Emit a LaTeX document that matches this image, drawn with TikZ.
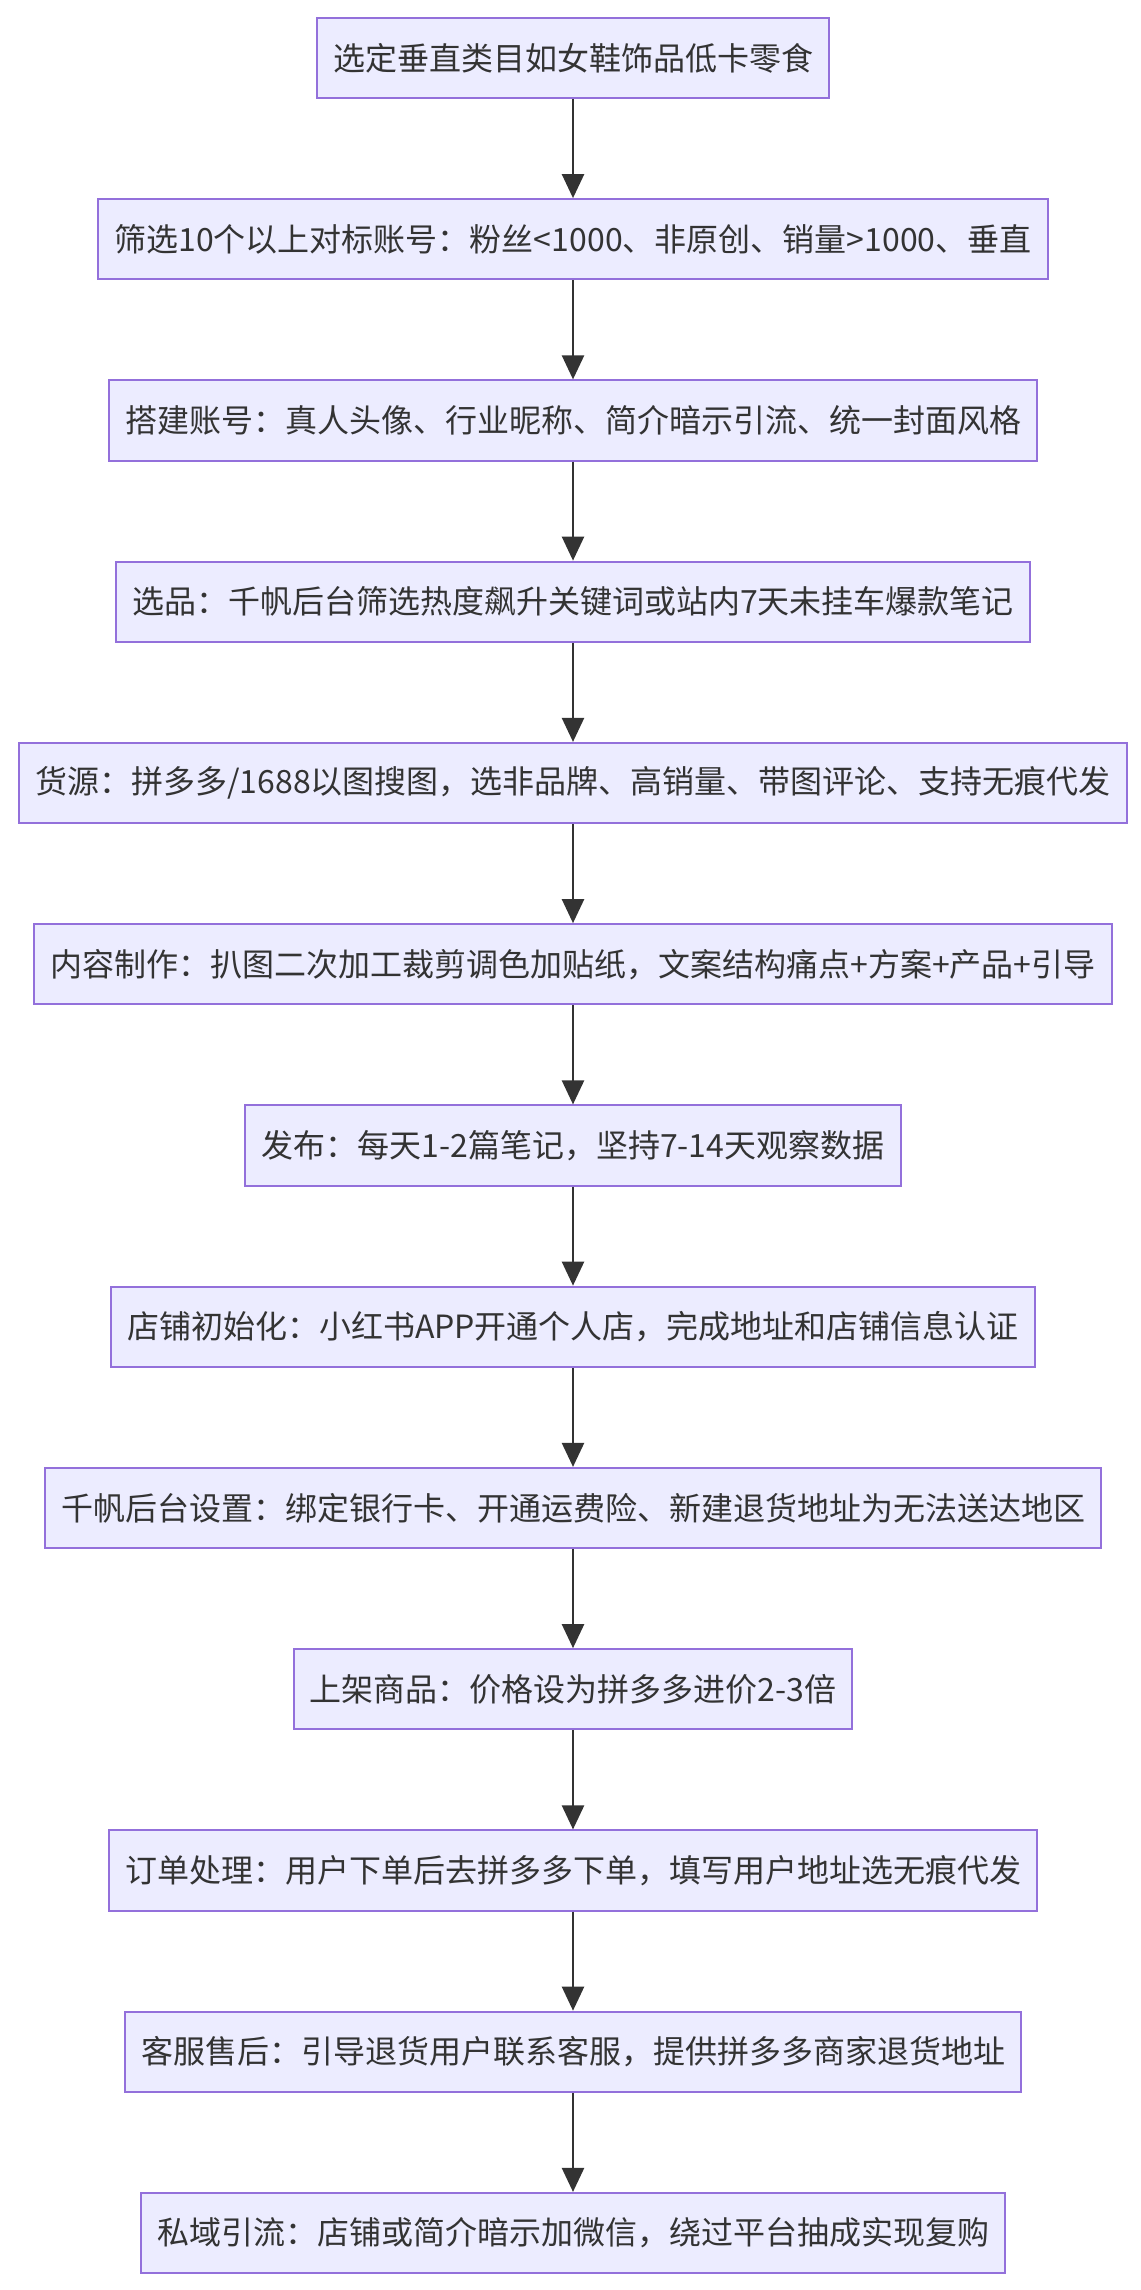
\documentclass[tikz,border=0pt]{standalone}
\usepackage{fontspec}
\setmainfont{Noto Sans CJK SC}
\usepackage{xcolor}
\usetikzlibrary{positioning}
\usetikzlibrary{arrows.meta}

\definecolor{boxfill}{HTML}{ECECFF}
\definecolor{boxline}{HTML}{9370DB}
\definecolor{inkgray}{HTML}{333333}

\begin{document}
\begin{tikzpicture}[flowbox/.style={rectangle,draw=boxline,fill=boxfill,line width=1pt,minimum height=1.41cm,inner xsep=8pt,text=inkgray,font=\fontsize{16pt}{19pt}\selectfont}, flowarrow/.style={draw=inkgray,line width=1.2pt,-{Triangle[length=12pt,width=11pt]}}, node distance = 1.74cm]
	\useasboundingbox (0,0) rectangle (570pt,-1145pt);
	\node[flowbox] (vertical) at (286.5pt,-29pt) {选定垂直类目如女鞋饰品低卡零食};
	\node[flowbox] (benchmark) [below = of vertical] {筛选10个以上对标账号：粉丝<1000、非原创、销量>1000、垂直};
	\node[flowbox] (account) [below = of benchmark] {搭建账号：真人头像、行业昵称、简介暗示引流、统一封面风格};
	\node[flowbox] (selection) [below = of account] {选品：千帆后台筛选热度飙升关键词或站内7天未挂车爆款笔记};
	\node[flowbox] (supply) [below = of selection] {货源：拼多多/1688以图搜图，选非品牌、高销量、带图评论、支持无痕代发};
	\node[flowbox] (content) [below = of supply] {内容制作：扒图二次加工裁剪调色加贴纸，文案结构痛点+方案+产品+引导};
	\node[flowbox] (publish) [below = of content] {发布：每天1-2篇笔记，坚持7-14天观察数据};
	\node[flowbox] (shopinit) [below = of publish] {店铺初始化：小红书APP开通个人店，完成地址和店铺信息认证};
	\node[flowbox] (backend) [below = of shopinit] {千帆后台设置：绑定银行卡、开通运费险、新建退货地址为无法送达地区};
	\node[flowbox] (listing) [below = of backend] {上架商品：价格设为拼多多进价2-3倍};
	\node[flowbox] (orders) [below = of listing] {订单处理：用户下单后去拼多多下单，填写用户地址选无痕代发};
	\node[flowbox] (service) [below = of orders] {客服售后：引导退货用户联系客服，提供拼多多商家退货地址};
	\node[flowbox] (private) [below = of service] {私域引流：店铺或简介暗示加微信，绕过平台抽成实现复购};
	\draw[flowarrow] (vertical) -- (benchmark);
	\draw[flowarrow] (benchmark) -- (account);
	\draw[flowarrow] (account) -- (selection);
	\draw[flowarrow] (selection) -- (supply);
	\draw[flowarrow] (supply) -- (content);
	\draw[flowarrow] (content) -- (publish);
	\draw[flowarrow] (publish) -- (shopinit);
	\draw[flowarrow] (shopinit) -- (backend);
	\draw[flowarrow] (backend) -- (listing);
	\draw[flowarrow] (listing) -- (orders);
	\draw[flowarrow] (orders) -- (service);
	\draw[flowarrow] (service) -- (private);
\end{tikzpicture}
\end{document}
